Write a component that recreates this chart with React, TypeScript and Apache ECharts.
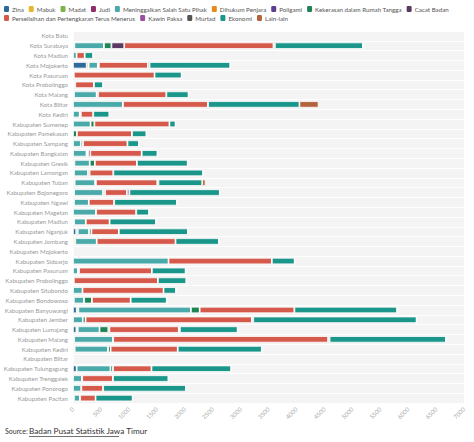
import React, { useEffect, useRef } from "react";
import * as echarts from "echarts";

const categories = [
  "Kota Batu", "Kota Surabaya", "Kota Madiun", "Kota Mojokerto", "Kota Pasuruan",
  "Kota Probolinggo", "Kota Malang", "Kota Blitar", "Kota Kediri", "Kabupaten Sumenep",
  "Kabupaten Pamekasan", "Kabupaten Sampang", "Kabupaten Bangkalan", "Kabupaten Gresik",
  "Kabupaten Lamongan", "Kabupaten Tuban", "Kabupaten Bojonegoro", "Kabupaten Ngawi",
  "Kabupaten Magetan", "Kabupaten Madiun", "Kabupaten Nganjuk", "Kabupaten Jombang",
  "Kabupaten Mojokerto", "Kabupaten Sidoarjo", "Kabupaten Pasuruan", "Kabupaten Probolinggo",
  "Kabupaten Situbondo", "Kabupaten Bondowoso", "Kabupaten Banyuwangi", "Kabupaten Jember",
  "Kabupaten Lumajang", "Kabupaten Malang", "Kabupaten Kediri", "Kabupaten Blitar",
  "Kabupaten Tulungagung", "Kabupaten Trenggalek", "Kabupaten Ponorogo", "Kabupaten Pacitan",
];

const zina = [0,0,0,245,0,0,18,0,0,0, 0,0,0,0,18,0,0,18,0,0, 60,0,0,0,0,0,0,0,66,0, 60,0,0,0,66,0,0,18];
const mabuk = [0,25,0,35,15,0,0,0,0,0, 0,0,0,25,0,30,20,0,0,20, 0,40,0,0,0,15,0,15,30,0, 25,20,30,0,0,0,0,0];
const madat = [0,0,0,0,0,15,0,0,0,0, 0,0,0,0,0,0,0,0,0,0, 0,0,0,0,0,0,0,0,0,0, 0,0,0,0,0,0,0,0];
const judi = [0,0,0,0,0,0,0,0,0,0, 0,0,0,0,0,0,0,0,0,0, 25,0,0,0,0,0,0,0,0,0, 0,0,0,0,0,0,0,0];
const meninggalkan = [0,530,65,165,0,0,405,895,120,315, 0,140,240,275,255,365,520,265,415,210, 205,385,0,1710,90,0,170,185,2015,175, 390,700,598,0,605,165,150,110];
const dihukum = [0,0,0,0,0,0,0,0,0,0, 0,0,15,0,0,15,0,0,0,0, 0,0,0,0,0,0,0,0,0,0, 0,0,0,0,0,0,0,0];
const poligami = [0,0,0,0,0,0,0,0,0,0, 0,0,15,0,0,0,0,0,0,0, 0,0,0,0,0,0,0,0,0,0, 0,0,0,0,0,0,0,0];
const kdrt = [0,133,0,0,0,25,0,0,0,68, 70,40,0,92,0,0,35,0,0,0, 40,0,0,0,0,0,0,139,157,50, 157,0,46,0,46,0,0,0];
const cacatBadan = [0,229,0,18,0,0,25,0,20,0, 0,0,40,0,25,0,0,0,0,0, 0,0,0,0,20,0,0,0,0,0, 20,0,0,0,0,0,0,0];
const perselisihan = [0,2672,145,878,1445,336,1224,1523,223,1344, 986,795,920,753,425,1100,390,455,718,425, 491,1410,0,1850,1302,1505,1451,694,1696,2978, 1242,3849,1201,0,688,551,390,276];
const kawinPaksa = [0,0,0,0,0,0,0,0,0,0, 0,0,0,0,0,0,45,0,0,0, 0,0,0,0,0,0,0,0,0,0, 0,0,0,0,0,0,0,0];
const murtad = [0,25,0,30,0,0,0,0,0,0, 0,0,0,0,0,20,0,0,0,0, 0,0,0,0,0,0,0,0,0,24, 20,25,0,0,0,0,0,0];
const ekonomi = [0,1576,151,1445,485,163,396,1636,288,109, 258,205,282,908,1606,783,1618,1123,229,831, 1236,777,0,408,604,509,223,646,1839,2924, 1034,2083,1505,0,1427,992,1481,664];
const lainLain = [0,0,0,0,0,0,0,342,0,0, 0,0,0,0,0,60,0,0,0,0, 0,0,0,0,0,0,0,0,0,0, 0,0,0,0,0,0,0,0];

const seriesNames = [
  "Zina", "Mabuk", "Madat", "Judi", "Meninggalkan Salah Satu Pihak", "Dihukum Penjara",
  "Poligami", "Kekerasan dalam Rumah Tangga", "Cacat Badan",
  "Perselisihan dan Pertengkaran Terus Menerus", "Kawin Paksa", "Murtad", "Ekonomi", "Lain-lain",
];
const seriesData = [zina, mabuk, madat, judi, meninggalkan, dihukum, poligami, kdrt, cacatBadan, perselisihan, kawinPaksa, murtad, ekonomi, lainLain];
const colors = [
  "#2b6a9b", "#e8b62e", "#7cb44a", "#8f2d6b", "#4aa9a9", "#e58a1d", "#5c3f90",
  "#1f8355", "#5b3a62", "#d65a4b", "#9b4fa1", "#555555", "#1a968a", "#b3633b",
];

const xTicks = [0, 500, 1000, 1500, 2000, 2500, 3000, 3500, 4000, 4500, 5000, 5500, 6000, 6500, 7000];

export default function App() {
  const ref = useRef<HTMLDivElement>(null);
  useEffect(() => {
    if (!ref.current) return;
    const chart = echarts.init(ref.current, null, { renderer: "svg" });
    const font = "Lato";
    const legendBase = {
      left: 4, padding: 0, width: 468, orient: "horizontal",
      itemWidth: 5, itemHeight: 6, itemGap: 5,
      icon: "roundRect",
      itemStyle: { borderWidth: 0 },
      textStyle: { fontSize: 6.2, color: "#555", fontFamily: font, padding: [0, 0, 0, -2] },
    };
    chart.setOption({
      animation: false,
      color: colors,
      textStyle: { fontFamily: font },
      legend: [
        { ...legendBase, data: seriesNames.slice(0, 9), top: 6 },
        { ...legendBase, data: seriesNames.slice(9), top: 15 },
      ],
      grid: { left: 73, right: 10, top: 31, bottom: 39, show: true, backgroundColor: "#f4f4f4", borderWidth: 0 },
      xAxis: {
        type: "value",
        min: xTicks[0],
        max: xTicks[xTicks.length - 1],
        interval: 500,
        axisLine: { show: false },
        axisTick: { show: false },
        splitLine: { show: false },
        axisLabel: {
          rotate: 45, fontSize: 6, color: "#aaa", margin: 5, fontFamily: font,
          formatter: (v: number) => String(v),
        },
      },
      yAxis: {
        type: "category",
        data: categories,
        inverse: true,
        axisLine: { show: false },
        axisTick: { show: false },
        splitLine: { show: true, lineStyle: { color: "#ffffff", width: 1 } },
        axisLabel: { fontSize: 6.1, color: "#999", margin: 5, fontFamily: font, interval: 0 },
      },
      series: seriesNames.map((name, i) => ({
        name,
        type: "bar",
        stack: "total",
        data: seriesData[i],
        barWidth: 6.5,
        itemStyle: { borderColor: "#ffffff", borderWidth: 0.8 },
        emphasis: { disabled: true },
      })),
      graphic: [
        {
          type: "text",
          left: 5,
          top: 427,
          style: { text: "Source:", fontSize: 7, fill: "#333", fontFamily: font },
        },
        {
          type: "text",
          left: 29,
          top: 426.5,
          style: { text: "Badan Pusat Statistik Jawa Timur", fontSize: 8.2, fill: "#333", fontFamily: font },
        },
        {
          type: "line",
          shape: { x1: 29, y1: 436.5, x2: 119, y2: 436.5 },
          style: { stroke: "#333", lineWidth: 0.7 },
        },
      ],
    });
    return () => chart.dispose();
  }, []);
  return <div ref={ref} style={{ width: 474, height: 442, position: "absolute", left: 0, top: 0 }} />;
}
